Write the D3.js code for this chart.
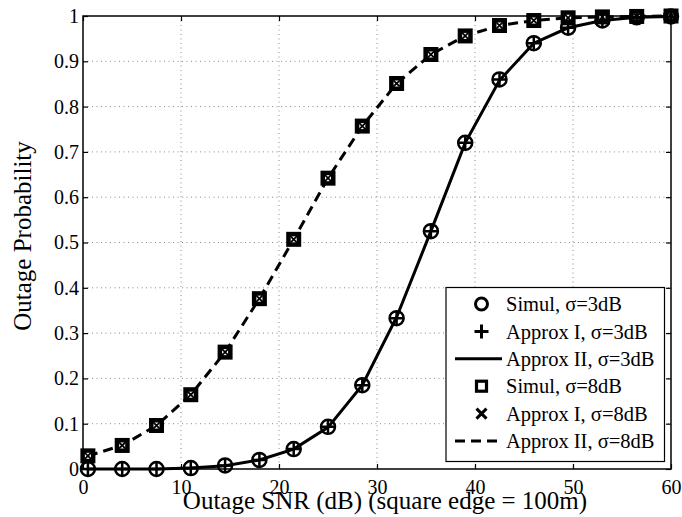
<!DOCTYPE html>
<html>
<head>
<meta charset="utf-8">
<script src="https://cdn.jsdelivr.net/npm/d3@7/dist/d3.min.js"></script>
<style>
  body { margin: 0; background: #fff; }
  svg { display: block; }
  text { font-family: "Liberation Serif", "Times New Roman", serif; fill: #000; }
</style>
</head>
<body>
<svg id="chart" width="682" height="517"></svg>
<script>
// ---- data ----
const snr = [0.5, 4, 7.5, 11, 14.5, 18, 21.5, 25, 28.5, 32, 35.5, 39, 42.5, 46, 49.5, 53, 56.5, 60];
const simul3 = [0, 0, 0, 0.002, 0.008, 0.02, 0.044, 0.093, 0.185, 0.333, 0.525, 0.72, 0.86, 0.94, 0.974, 0.99, 0.997, 0.999];
const approxI3 = [0, 0, 0, 0.002, 0.008, 0.02, 0.044, 0.093, 0.185, 0.333, 0.525, 0.72, 0.86, 0.94, 0.974, 0.99, 0.997, 0.999];
const approxII3 = [0, 0, 0, 0.002, 0.007, 0.02, 0.044, 0.092, 0.185, 0.335, 0.525, 0.72, 0.858, 0.94, 0.974, 0.99, 0.997, 0.999];
const simul8 = [0.029, 0.052, 0.096, 0.164, 0.258, 0.376, 0.507, 0.642, 0.757, 0.851, 0.915, 0.956, 0.979, 0.99, 0.996, 0.998, 0.999, 1.0];
const approxI8 = [0.029, 0.052, 0.096, 0.164, 0.258, 0.376, 0.507, 0.642, 0.757, 0.851, 0.915, 0.956, 0.979, 0.99, 0.996, 0.998, 0.999, 1.0];
const approxII8 = [0.029, 0.052, 0.096, 0.164, 0.258, 0.376, 0.507, 0.642, 0.757, 0.851, 0.915, 0.956, 0.979, 0.99, 0.996, 0.998, 0.999, 1.0];
const xTicks = [0, 10, 20, 30, 40, 50, 60];
const yTicks = [0, 0.1, 0.2, 0.3, 0.4, 0.5, 0.6, 0.7, 0.8, 0.9, 1];
const xTitle = "Outage SNR (dB) (square edge = 100m)";
const yTitle = "Outage Probability";
const legendLabels = ["Simul, σ=3dB", "Approx I, σ=3dB", "Approx II, σ=3dB", "Simul, σ=8dB", "Approx I, σ=8dB", "Approx II, σ=8dB"];

// ---- layout ----
const L = 83, R = 671, T = 16, B = 469;
const svg = d3.select("#chart");
const x = d3.scaleLinear().domain([0, 60]).range([L, R]);
const y = d3.scaleLinear().domain([0, 1]).range([B, T]);

// grid
const grid = svg.append("g").attr("stroke", "#8a8a8a").attr("stroke-width", 1).attr("stroke-dasharray", "1,3.5");
grid.selectAll("line.gx").data(xTicks.slice(1, -1)).join("line")
  .attr("x1", d => x(d)).attr("x2", d => x(d)).attr("y1", T).attr("y2", B);
grid.selectAll("line.gy").data(yTicks.slice(1, -1)).join("line")
  .attr("y1", d => y(d)).attr("y2", d => y(d)).attr("x1", L).attr("x2", R);

// axes
const font = 20;
const gx = svg.append("g").attr("transform", `translate(0,${B})`)
  .call(d3.axisBottom(x).tickValues(xTicks).tickSize(-5).tickFormat(d3.format("d")));
gx.selectAll("text").attr("y", 11).attr("dy", "0.71em").style("font-size", font + "px");
const gxt = svg.append("g").attr("transform", `translate(0,${T})`)
  .call(d3.axisTop(x).tickValues(xTicks).tickSize(-5).tickFormat(""));
const gy = svg.append("g").attr("transform", `translate(${L},0)`)
  .call(d3.axisLeft(y).tickValues(yTicks).tickSize(-5).tickFormat(d => d === 0 ? "0" : d === 1 ? "1" : d3.format(".1f")(d)));
gy.selectAll("text").attr("x", -4).style("font-size", font + "px");
const gyr = svg.append("g").attr("transform", `translate(${R},0)`)
  .call(d3.axisRight(y).tickValues(yTicks).tickSize(-5).tickFormat(""));
[gx, gxt, gy, gyr].forEach(g => {
  g.select(".domain").remove();
  g.selectAll("line").attr("stroke", "#000").attr("stroke-width", 1.2);
});
svg.append("rect").attr("x", L).attr("y", T).attr("width", R - L).attr("height", B - T)
  .attr("fill", "none").attr("stroke", "#000").attr("stroke-width", 1.5);

// titles
svg.append("text").attr("x", 385).attr("y", 509).attr("text-anchor", "middle")
  .style("font-size", "25px").text(xTitle);
svg.append("text").attr("transform", "translate(31,236) rotate(-90)").attr("text-anchor", "middle")
  .style("font-size", "25px").text(yTitle);

// lines
const line = d3.line().x((d, i) => x(snr[i])).y(d => y(d));
svg.append("path").attr("d", line(approxII3)).attr("fill", "none").attr("stroke", "#000").attr("stroke-width", 3);
svg.append("path").attr("d", line(approxII8)).attr("fill", "none").attr("stroke", "#000").attr("stroke-width", 3)
  .attr("stroke-dasharray", "10,6");

// marker helpers
function circ(g, cx, cy, r, sw) {
  g.append("circle").attr("cx", cx).attr("cy", cy).attr("r", r).attr("fill", "none").attr("stroke", "#000").attr("stroke-width", sw);
}
function plus(g, cx, cy, h, sw) {
  g.append("path").attr("d", `M${cx - h},${cy}H${cx + h}M${cx},${cy - h}V${cy + h}`).attr("stroke", "#000").attr("stroke-width", sw).attr("fill", "none");
}
function square(g, cx, cy, s, sw, fill) {
  g.append("rect").attr("x", cx - s / 2).attr("y", cy - s / 2).attr("width", s).attr("height", s).attr("fill", fill || "none").attr("stroke", "#000").attr("stroke-width", sw);
}
function cross(g, cx, cy, h, sw) {
  g.append("path").attr("d", `M${cx - h},${cy - h}L${cx + h},${cy + h}M${cx - h},${cy + h}L${cx + h},${cy - h}`).attr("stroke", "#000").attr("stroke-width", sw).attr("fill", "none");
}

const mk = svg.append("g");
snr.forEach((s, i) => { square(mk, x(s), y(simul8[i]), 10.5, 4.5, "#fff"); });
snr.forEach((s, i) => { cross(mk, x(s), y(approxI8[i]), 3.2, 1.8); });
snr.forEach((s, i) => { circ(mk, x(s), y(simul3[i]), 7, 2.5); });
snr.forEach((s, i) => { plus(mk, x(s), y(approxI3[i]), 7.5, 2.5); });

// legend
const lg = svg.append("g");
lg.append("rect").attr("x", 446).attr("y", 287.5).attr("width", 218.5).attr("height", 174)
  .attr("fill", "#fff").attr("stroke", "#000").attr("stroke-width", 1.2);
const rowY = i => 304 + i * 27.4;
const mx = 481.5;
circ(lg, mx, rowY(0), 6, 3);
plus(lg, mx, rowY(1), 7, 3);
lg.append("line").attr("x1", 455).attr("x2", 502).attr("y1", rowY(2)).attr("y2", rowY(2)).attr("stroke", "#000").attr("stroke-width", 3);
square(lg, mx, rowY(3), 10, 3.2);
cross(lg, mx, rowY(4), 5, 3);
lg.append("line").attr("x1", 455).attr("x2", 502).attr("y1", rowY(5)).attr("y2", rowY(5)).attr("stroke", "#000").attr("stroke-width", 3)
  .attr("stroke-dasharray", "10,6");
lg.selectAll("text.lbl").data(legendLabels).join("text").attr("class", "lbl")
  .attr("x", 506).attr("y", (d, i) => rowY(i)).attr("dy", "0.35em").style("font-size", "20.5px").text(d => d);
</script>
</body>
</html>
